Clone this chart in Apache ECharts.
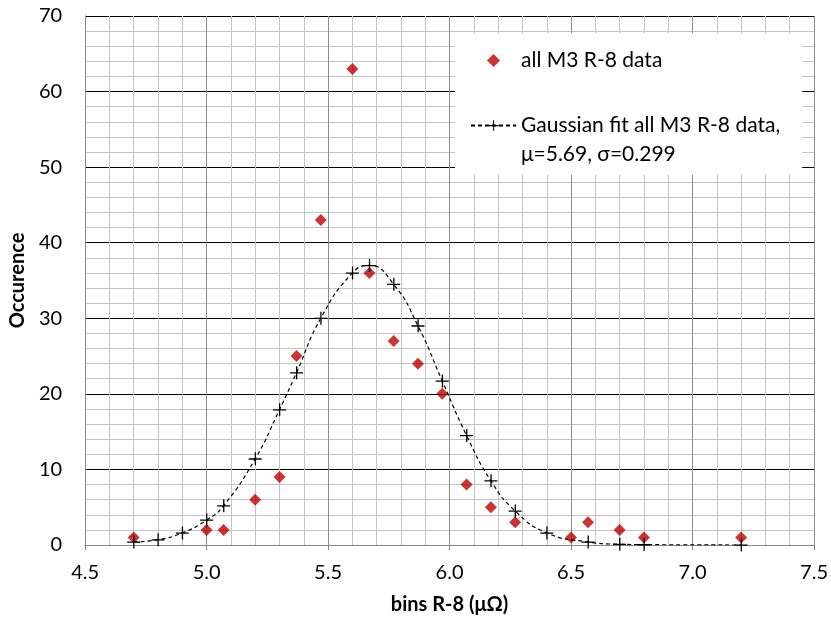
<!DOCTYPE html>
<html><head><meta charset="utf-8">
<script src="https://cdn.jsdelivr.net/npm/echarts@6/dist/echarts.min.js"></script>
<style>html,body{margin:0;padding:0;background:#fff}#c{width:831px;height:622px}</style>
</head><body><div id="c"></div>
<script>
const xTickLabels = ['4.5','5.0','5.5','6.0','6.5','7.0','7.5'];
const yTickLabels = ['0','10','20','30','40','50','60','70'];
const dataX = [4.70,5.00,5.07,5.20,5.30,5.37,5.47,5.60,5.67,5.77,5.87,5.97,6.07,6.17,6.27,6.50,6.57,6.70,6.80,7.20];
const dataY = [1,2,2,6,9,25,43,63,36,27,24,20,8,5,3,1,3,2,1,1];
const fitX = [4.70,4.80,4.90,5.00,5.07,5.20,5.30,5.37,5.47,5.60,5.67,5.77,5.87,5.97,6.07,6.17,6.27,6.40,6.57,6.70,6.80,7.20];
const fitY = [0.4,0.7,1.6,3.3,5.2,11.4,17.9,22.8,30.0,36.0,37.0,34.5,29.0,21.7,14.5,8.5,4.5,1.6,0.4,0.1,0.05,0.0];
const dataName = 'all M3 R-8 data';
const fitName = 'Gaussian fit all M3 R-8 data,\nμ=5.69, σ=0.299';
const xTitle = 'bins R-8 (μΩ)';
const yTitle = 'Occurence';

const FONT = 'Lato';
const chart = echarts.init(document.getElementById('c'), null, {renderer:'canvas'});
const crossPath = 'path://M0 6H13V7.3H0Z M6 0H7.3V13H6Z';
const diamondPath = 'path://M5 0L10 5L5 10L0 5Z';
chart.setOption({
  animation:false,
  backgroundColor:'#fff',
  textStyle:{fontFamily:FONT},
  grid:{left:83,right:15,top:16,bottom:77,containLabel:false},
  legend:{
    orient:'vertical', left:455, top:33,
    backgroundColor:'#fff',
    padding:[13,22,6,15],
    itemWidth:45, itemHeight:13, itemGap:7,
    textStyle:{fontFamily:FONT,fontSize:21,color:'#000',lineHeight:29},
    formatter:(name)=> name === fitName ? '\n' + name : name,
    data:[{name:dataName},{name:fitName}]
  },
  xAxis:{type:'value',min:4.5,max:7.5,interval:0.5,
    axisLine:{show:true,onZero:false,lineStyle:{color:'#868686',width:1}},
    axisTick:{show:true,length:5,lineStyle:{color:'#868686'}},
    minorTick:{show:true,splitNumber:5,length:0},
    axisLabel:{margin:18,fontSize:20,color:'#000',fontFamily:FONT,formatter:(v,i)=>xTickLabels[i]},
    splitLine:{show:true,lineStyle:{color:'#8c8c8c',width:1}},
    minorSplitLine:{show:true,lineStyle:{color:'#c4c4c4',width:1}},
    name:xTitle,nameLocation:'middle',nameGap:50,
    nameTextStyle:{fontFamily:FONT,fontSize:20,fontWeight:'bold',color:'#000'}
  },
  yAxis:{type:'value',min:0,max:70,interval:10,
    axisLine:{show:true,lineStyle:{color:'#868686',width:1}},
    axisTick:{show:false},
    minorTick:{show:true,splitNumber:5,length:0},
    axisLabel:{margin:23,fontSize:20,color:'#000',fontFamily:FONT,formatter:(v,i)=>yTickLabels[i]},
    splitLine:{show:true,lineStyle:{color:'#000',width:1}},
    minorSplitLine:{show:true,lineStyle:{color:'#c4c4c4',width:1}},
    name:yTitle,nameLocation:'middle',nameGap:53,nameRotate:90,
    nameTextStyle:{fontFamily:FONT,fontSize:20,fontWeight:'bold',color:'#000'}
  },
  series:[
    {type:'scatter',name:dataName,data:dataX.map((x,i)=>[x,dataY[i]]),
     symbol:diamondPath,symbolSize:12,symbolKeepAspect:true,
     itemStyle:{color:'#C00000',borderWidth:0}},
    {type:'line',name:fitName,data:fitX.map((x,i)=>[x,fitY[i]]),smooth:true,
     symbol:crossPath,symbolSize:13,symbolKeepAspect:true,showSymbol:true,showAllSymbol:true,
     lineStyle:{color:'#000',width:1.2,type:[4,3]},
     itemStyle:{color:'#000',borderWidth:0}}
  ]
});
</script></body></html>
